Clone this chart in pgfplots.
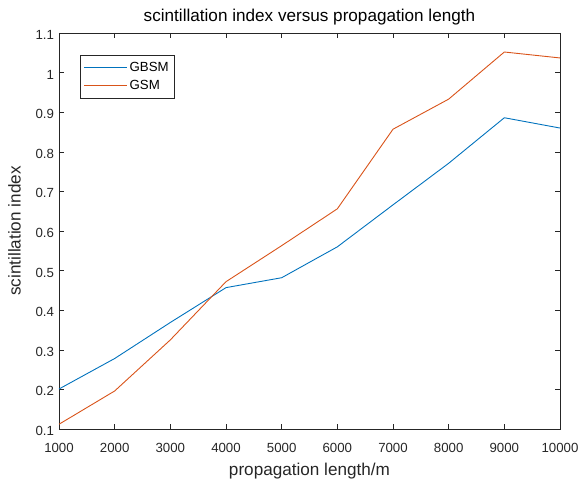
\documentclass[border=0pt]{standalone}
\usepackage{pgfplots}
\pgfplotsset{compat=1.18}
\usepackage{fontspec}
\setmainfont{Liberation Sans}
\definecolor{mblue}{rgb}{0,0.447,0.741}
\definecolor{morange}{rgb}{0.85,0.325,0.098}
\definecolor{axgray}{rgb}{0.15,0.15,0.15}
\begin{document}
\begin{tikzpicture}
\useasboundingbox (-59bp,-50bp) rectangle (525bp,429bp);
\begin{axis}[
  at={(0,0)}, anchor=south west,
  scale only axis, width=501bp, height=396bp,
  xmin=1000, xmax=10000, ymin=0.1, ymax=1.1,
  xtick={1000,2000,...,10000},
  ytick={0.1,0.2,0.3,0.4,0.5,0.6,0.7,0.8,0.9,1,1.1},
  scaled x ticks=false,
  /pgf/number format/assume math mode=true,
  x tick label style={/pgf/number format/1000 sep={}, font=\fontsize{13.3}{15}\selectfont, text=axgray, yshift=-11bp},
  y tick label style={/pgf/number format/fixed, /pgf/number format/precision=1, font=\fontsize{13.3}{15}\selectfont, text=axgray, yshift=-2bp, xshift=-1.5bp},
  tick align=inside, tick pos=both,
  major tick length=5bp,
  axis line style={axgray, line width=0.5pt},
  every tick/.style={axgray, line width=0.5pt},
  title={scintillation index versus propagation length},
  title style={font=\fontsize{17.2}{19}\selectfont, text=black, at={(0.5,1)}, anchor=south, yshift=-2bp},
  xlabel={propagation length/m},
  ylabel={scintillation index},
  label style={font=\fontsize{17.2}{19}\selectfont, text=axgray},
  xlabel style={yshift=-3bp},
  ylabel style={yshift=8bp},
  legend style={at={(rel axis cs:0.041,0.944)}, anchor=north west,
    draw=axgray, line width=0.5pt, font=\fontsize{13.3}{15}\selectfont, text=black,
    inner xsep=4bp, inner ysep=5bp, row sep=3bp},
  legend cell align=left,
]
\pgfplotsset{legend image code/.code={\draw[#1] (0bp,0bp) -- (43bp,0bp);}}
\addplot[mblue, line width=0.9pt] coordinates {
(1000,0.201) (2000,0.278) (3000,0.369) (4000,0.457) (5000,0.482) (6000,0.560) (7000,0.666) (8000,0.771) (9000,0.886) (10000,0.860)};
\addlegendentry{GBSM\hspace{6bp}}
\addplot[morange, line width=0.9pt] coordinates {
(1000,0.112) (2000,0.196) (3000,0.325) (4000,0.472) (5000,0.563) (6000,0.656) (7000,0.857) (8000,0.933) (9000,1.052) (10000,1.037)};
\addlegendentry{GSM}
\end{axis}
\end{tikzpicture}
\end{document}
